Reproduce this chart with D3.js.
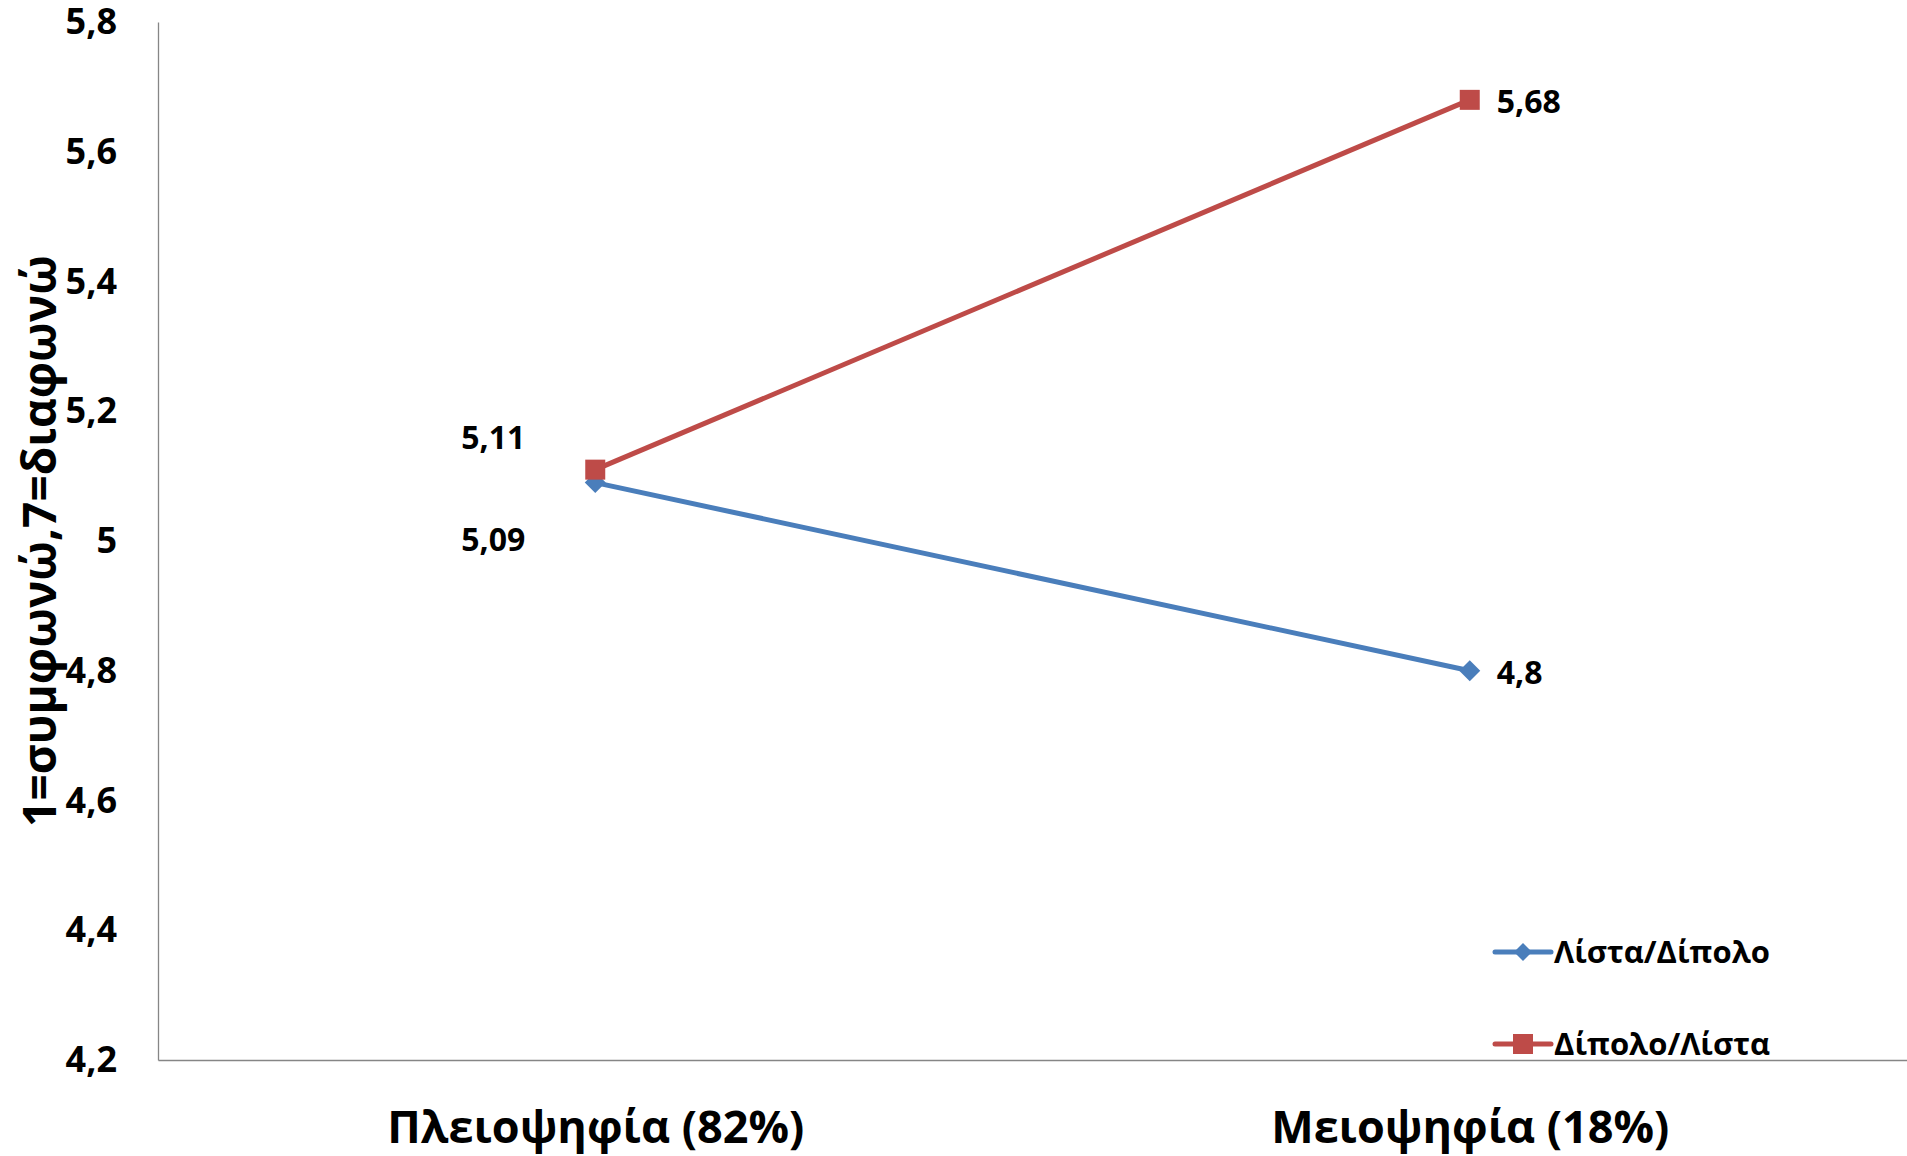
<!DOCTYPE html>
<html>
<head>
<meta charset="utf-8">
<script src="https://cdn.jsdelivr.net/npm/d3@7"></script>
<style>
  html, body { margin: 0; padding: 0; background: #fff; }
  svg text { font-family: "Open Sans", "Noto Sans", sans-serif; font-weight: bold; fill: #000; }
</style>
</head>
<body>
<svg id="chart" width="1907" height="1156"></svg>
<script>
// ---- data ----
const categories = ["Πλειοψηφία (82%)", "Μειοψηφία (18%)"];
const seriesNames = ["Λίστα/Δίπολο", "Δίπολο/Λίστα"];
const seriesListaDipolo = [5.09, 4.8];
const seriesDipoloLista = [5.11, 5.68];
const yTicks = [4.2, 4.4, 4.6, 4.8, 5.0, 5.2, 5.4, 5.6, 5.8];
const yTitle = "1=συμφωνώ,7=διαφωνώ";

// ---- setup ----
const W = 1907, H = 1156;
const m = { left: 158, right: 0, top: 22, bottom: 96 };
const svg = d3.select("#chart");
const locale = d3.formatLocale({ decimal: ",", thousands: ".", grouping: [3], currency: ["", "€"] });
const fmt = locale.format("~f");

const x = d3.scalePoint().domain(categories).range([m.left, W - m.right]).padding(0.5);
const y = d3.scaleLinear().domain([4.2, 5.8]).range([H - m.bottom, m.top]);

const series = [
  { name: seriesNames[0], values: seriesListaDipolo, color: "#4A7EBB", marker: "diamond" },
  { name: seriesNames[1], values: seriesDipoloLista, color: "#BE4B48", marker: "square" }
];

// axes
const yAxis = svg.append("g").attr("transform", `translate(${m.left},0)`)
  .call(d3.axisLeft(y).tickValues(yTicks).tickFormat(fmt).tickSize(0).tickSizeOuter(0).tickPadding(41));
const xAxis = svg.append("g").attr("transform", `translate(0,${H - m.bottom})`)
  .call(d3.axisBottom(x).tickSize(0).tickSizeOuter(0).tickPadding(51));
[yAxis, xAxis].forEach(g => {
  g.select(".domain").attr("stroke", "#868686").attr("stroke-width", 1.3);
  g.selectAll("text").attr("font-family", null);
});
yAxis.selectAll("text").style("font-size", "36px");
xAxis.selectAll("text").style("font-size", "45px");

// y title
svg.append("text")
  .attr("transform", `translate(56,${(m.top + H - m.bottom) / 2}) rotate(-90)`)
  .attr("text-anchor", "middle")
  .style("font-size", "46px")
  .text(yTitle);

function markerPath(type, s) {
  if (type === "square") return `M${-s/2},${-s/2}h${s}v${s}h${-s}Z`;
  const r = s / 2;
  return `M0,${-r}L${r},0L0,${r}L${-r},0Z`;
}

const line = d3.line().x((d, i) => x(categories[i])).y(d => y(d));

series.forEach((s, si) => {
  const g = svg.append("g");
  g.append("path").datum(s.values).attr("d", line)
    .attr("fill", "none").attr("stroke", s.color).attr("stroke-width", 5);
  g.selectAll("path.mk").data(s.values).enter().append("path").attr("class", "mk")
    .attr("transform", (d, i) => `translate(${x(categories[i])},${y(d)})`)
    .attr("d", markerPath(s.marker, s.marker === "square" ? 20 : 21))
    .attr("fill", s.color);
  // data labels
  g.selectAll("text.lbl").data(s.values).enter().append("text").attr("class", "lbl")
    .attr("x", (d, i) => i === 0 ? x(categories[i]) - 70 : x(categories[i]) + 27)
    .attr("y", (d, i) => y(d) + (i === 0 ? (si === 1 ? -32 : 57) : 2))
    .attr("dy", "0.36em")
    .attr("text-anchor", (d, i) => i === 0 ? "end" : "start")
    .style("font-size", "32px")
    .text(d => fmt(d));
});

// legend
const legY = [952, 1044];
series.forEach((s, si) => {
  const g = svg.append("g").attr("transform", `translate(1495,${legY[si]})`);
  g.append("line").attr("x1", 0).attr("x2", 56).attr("y1", 0).attr("y2", 0)
    .attr("stroke", s.color).attr("stroke-width", 5).attr("stroke-linecap", "round");
  g.append("path").attr("transform", "translate(28,0)")
    .attr("d", markerPath(s.marker, s.marker === "square" ? 20 : 18)).attr("fill", s.color);
  g.append("text").attr("x", 59).attr("y", 0).attr("dy", "0.36em")
    .style("font-size", "31px").text(s.name);
});
</script>
</body>
</html>
